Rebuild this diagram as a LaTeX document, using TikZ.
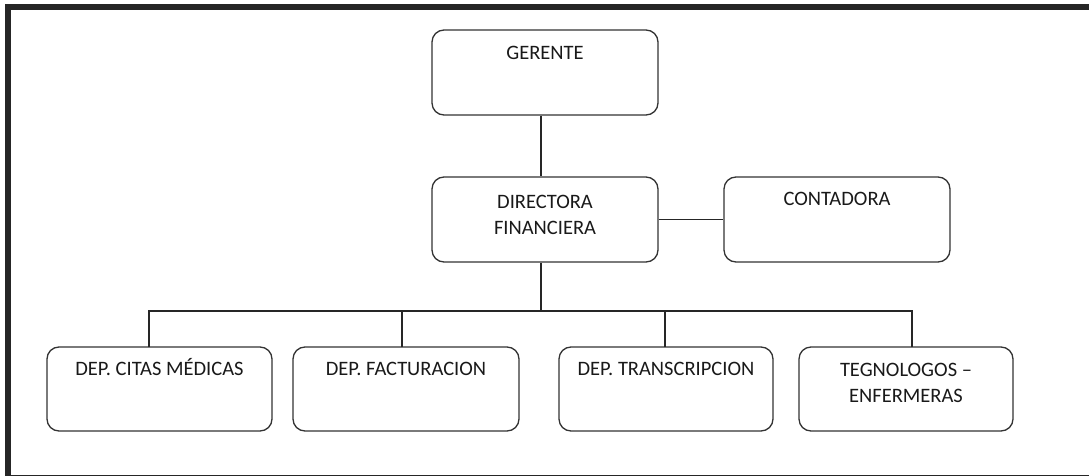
\documentclass[tikz,border=0pt]{standalone}
\usepackage{fontspec}
\setmainfont{Carlito}
\begin{document}
\begin{tikzpicture}[x=1pt,y=-1pt,
  box/.style={draw=black!80, line width=1.3pt, rounded corners=12pt, inner sep=0pt},
  lbl/.style={font=\fontsize{20.5}{26}\selectfont, text=black!90, align=center, anchor=base, inner sep=0pt},
  conn/.style={draw=black!85, line width=1.2pt}]
\useasboundingbox (0,0) rectangle (1089,476);
% frame
\fill[black!85] (5,4) rectangle (1089,10);
\fill[black!85] (5,4) rectangle (11,476);
\fill[black!85] (5,474.5) rectangle (1089,476);
% boxes
\node[box, minimum width=226pt, minimum height=85pt] (ger) at (545,72.5) {};
\node[box, minimum width=226pt, minimum height=85pt] (dir) at (545,219.5) {};
\node[box, minimum width=226pt, minimum height=85pt] (con) at (837,219.5) {};
\node[box, minimum width=225pt, minimum height=84pt] (c1) at (159.5,389) {};
\node[box, minimum width=226pt, minimum height=84pt] (c2) at (406,389) {};
\node[box, minimum width=214pt, minimum height=84pt] (c3) at (666,389) {};
\node[box, minimum width=214pt, minimum height=84pt] (c4) at (906,389) {};
% texts
\node[lbl] (tger) at (545,60) {GERENTE};
\node[lbl] (tdir) at (545,234) {DIRECTORA\\FINANCIERA};
\node[lbl] (tcon) at (837,205) {CONTADORA};
\node[lbl] (t1) at (159.5,375) {DEP. CITAS MÉDICAS};
\node[lbl] (t2) at (406,375) {DEP. FACTURACION};
\node[lbl] (t3) at (666,375) {DEP. TRANSCRIPCION};
\node[lbl] (t4) at (906,402) {TEGNOLOGOS –\\ENFERMERAS};
% connection points
\coordinate (bus) at (541,311);
\coordinate (p1) at (149,347);
\coordinate (p2) at (402,347);
\coordinate (p3) at (665,347);
\coordinate (p4) at (912,347);
% connectors
\draw[conn] (ger.south -| bus) -- (dir.north -| bus);
\draw[conn] (dir.east) -- (con.west);
\draw[conn] (dir.south -| bus) -- (bus);
\draw[conn] (p1) -- (p1 |- bus) -- (p4 |- bus) -- (p4);
\draw[conn] (p2 |- bus) -- (p2);
\draw[conn] (p3 |- bus) -- (p3);
\end{tikzpicture}
\end{document}
